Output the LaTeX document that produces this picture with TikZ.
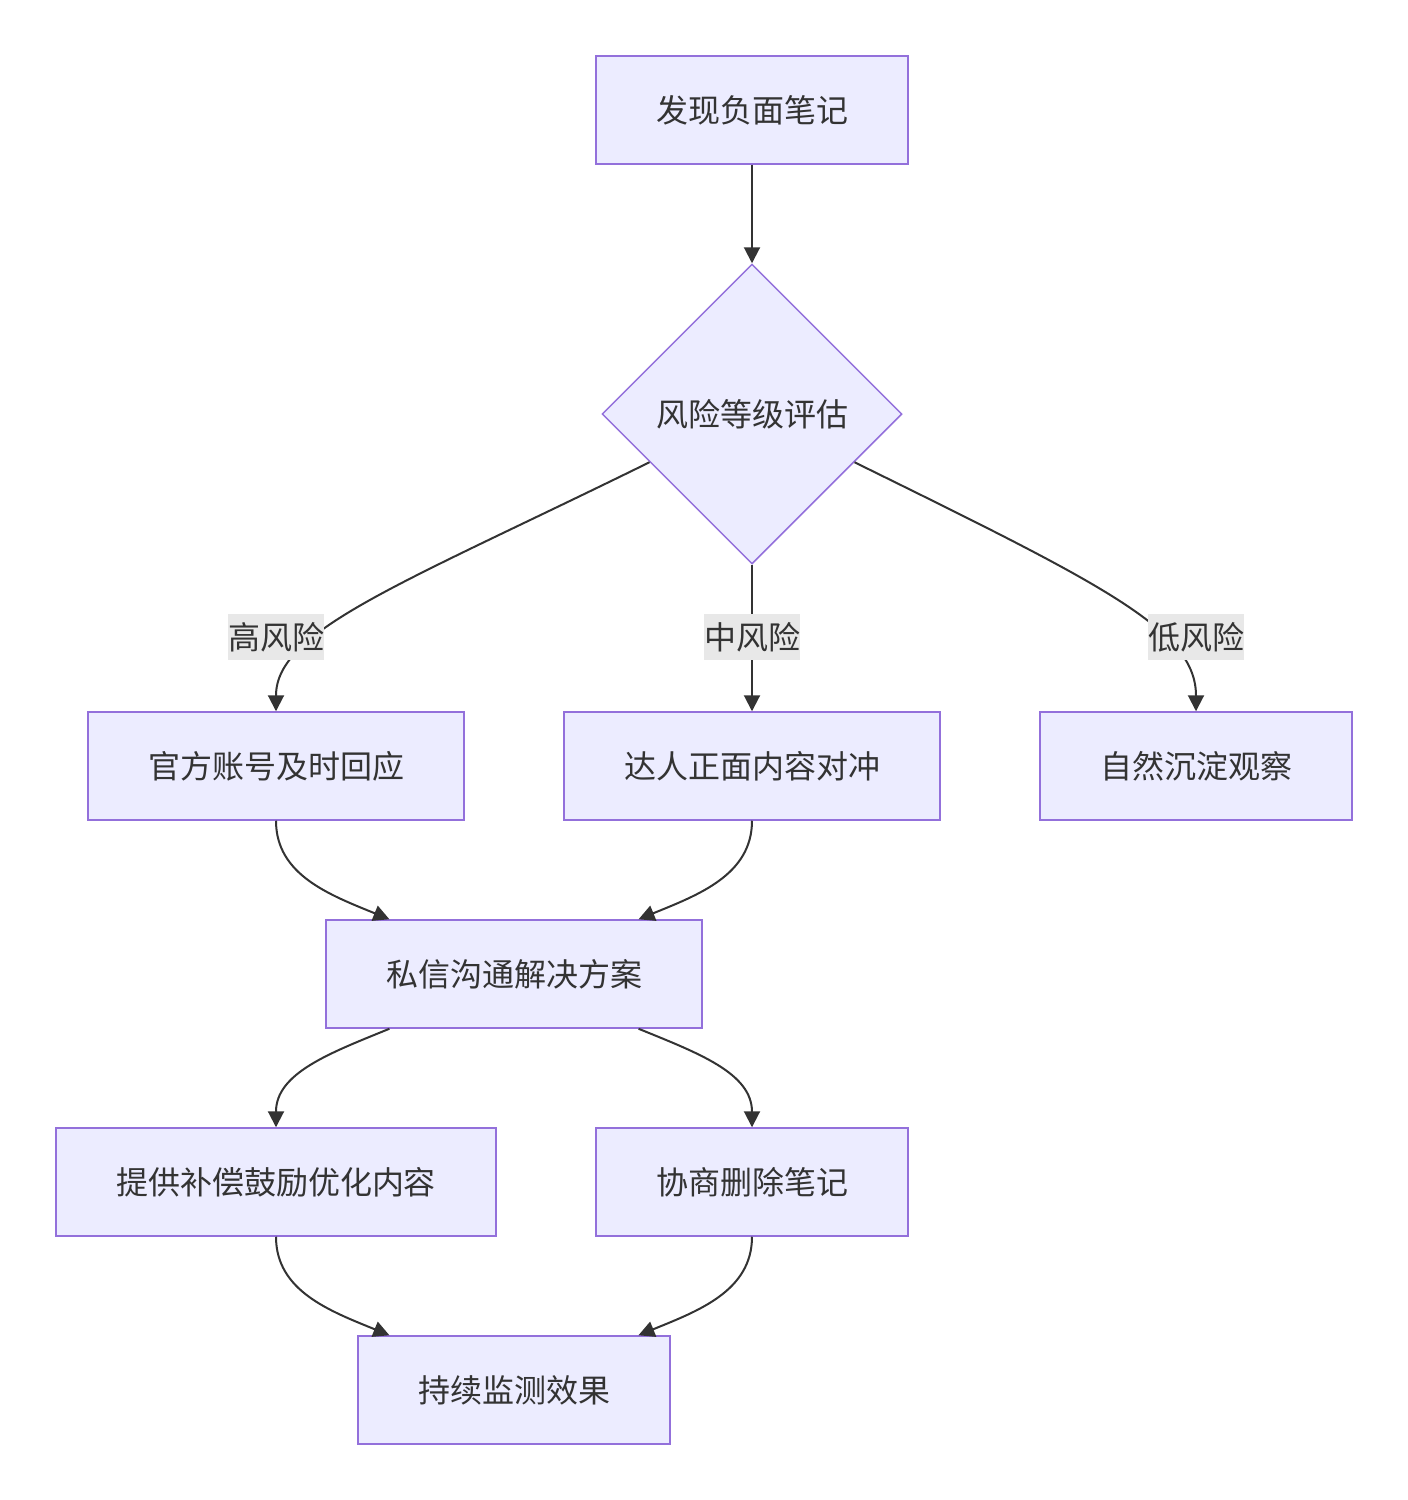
\documentclass[tikz,border=0pt]{standalone}
\usepackage{fontspec}
\setmainfont{Noto Sans CJK SC}
\usetikzlibrary{shapes.geometric,arrows.meta,calc}
\definecolor{nodefill}{HTML}{ECECFF}
\definecolor{nodeline}{HTML}{9370DB}
\definecolor{ink}{HTML}{333333}
\definecolor{lblbg}{HTML}{E8E8E8}
\begin{document}
\begin{tikzpicture}[x=0.75pt,y=-0.75pt,
  every node/.style={font=\fontsize{24pt}{28pt}\selectfont, text=ink},
  box/.style={draw=nodeline, fill=nodefill, line width=1.1pt, minimum height=81pt, inner sep=0pt},
  dia/.style={diamond, draw=nodeline, fill=nodefill, line width=1.1pt, minimum width=225pt, minimum height=225pt, inner sep=0pt, aspect=1},
  lbl/.style={fill=lblbg, inner sep=0pt, minimum height=35pt, minimum width=72pt},
  edge/.style={draw=ink, line width=1.5pt, -{Triangle[length=12pt,width=12pt]}}
]
\useasboundingbox (0,0) rectangle (1408,1500);
\node[box, minimum width=234pt] (found) at (752,110) {发现负面笔记};
\node[dia] (risk) at (752,414) {风险等级评估};
\node[box, minimum width=282pt] (official) at (276,766) {官方账号及时回应};
\node[box, minimum width=282pt] (kol) at (752,766) {达人正面内容对冲};
\node[box, minimum width=234pt] (natural) at (1196,766) {自然沉淀观察};
\node[box, minimum width=282pt] (pm) at (514,974) {私信沟通解决方案};
\node[box, minimum width=330pt] (comp) at (276,1182) {提供补偿鼓励优化内容};
\node[box, minimum width=234pt] (del) at (752,1182) {协商删除笔记};
\node[box, minimum width=234pt] (mon) at (514,1390) {持续监测效果};

\draw[edge] (found.south) -- (risk.north);
\draw[edge] ($(risk.west)!0.32!(risk.south)$) .. controls (400,585) and (276,630) .. (official.north);
\draw[edge] (risk.south) -- (kol.north);
\draw[edge] ($(risk.east)!0.32!(risk.south)$) .. controls (1104,585) and (1196,630) .. (natural.north);

\node[lbl] (lh) at (276,637) {高风险};
\node[lbl] (lm) at (752,637) {中风险};
\node[lbl] (ll) at (1196,637) {低风险};

\draw[edge] (official.south) .. controls (276,875) and (330,895) .. ($(pm.north west)!0.17!(pm.north east)$);
\draw[edge] (kol.south) .. controls (752,875) and (698,895) .. ($(pm.north west)!0.83!(pm.north east)$);
\draw[edge] ($(pm.south west)!0.17!(pm.south east)$) .. controls (330,1053) and (276,1073) .. (comp.north);
\draw[edge] ($(pm.south west)!0.83!(pm.south east)$) .. controls (698,1053) and (752,1073) .. (del.north);
\draw[edge] (comp.south) .. controls (276,1291) and (330,1311) .. ($(mon.north west)!0.1026!(mon.north east)$);
\draw[edge] (del.south) .. controls (752,1291) and (698,1311) .. ($(mon.north west)!0.897!(mon.north east)$);
\end{tikzpicture}
\end{document}
